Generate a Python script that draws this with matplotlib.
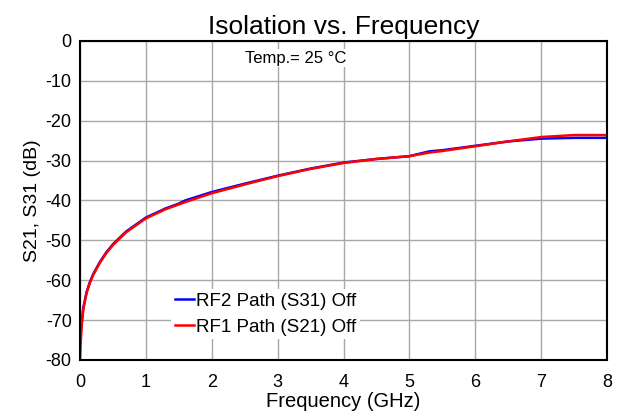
import matplotlib
matplotlib.use("Agg")
import matplotlib.pyplot as plt

plt.rcParams["font.family"] = ["Liberation Sans", "DejaVu Sans"]
plt.rcParams["axes.unicode_minus"] = False

# Frequency points (GHz)
freq = [0.0, 0.01, 0.03, 0.05, 0.1, 0.15, 0.2, 0.3, 0.4, 0.5, 0.7, 1.0, 1.3, 1.5,
        1.6, 2.0, 2.5, 3.0, 3.5, 4.0, 4.5, 5.0, 5.3, 5.5, 6.0, 6.5, 7.0, 7.5, 8.0]
# RF2 Path (S31) Off
s31 = [-73.0, -73.0, -70.0, -67.0, -63.0, -60.5, -58.5, -55.5, -53.0, -51.0, -47.8,
       -44.3, -42.0, -40.8, -40.0, -37.9, -35.8, -33.8, -32.0, -30.5, -29.6, -28.9,
       -27.7, -27.4, -26.3, -25.2, -24.5, -24.3, -24.3]
# RF1 Path (S21) Off
s21 = [-80.0, -76.0, -70.5, -67.3, -63.2, -60.7, -58.7, -55.7, -53.2, -51.2, -48.0,
       -44.5, -42.2, -41.0, -40.4, -38.2, -36.0, -33.9, -32.1, -30.6, -29.6, -28.9,
       -28.0, -27.6, -26.4, -25.2, -24.1, -23.6, -23.6]

xticks = list(range(0, 9))
yticks = list(range(-80, 1, 10))

fig = plt.figure(figsize=(6.21, 4.18), dpi=100)
ax = fig.add_axes([0.1288, 0.139, 0.8487, 0.763])

ax.plot(freq, s31, color="#0000ff", lw=1.8, label="RF2 Path (S31) Off")
ax.plot(freq, s21, color="#ff0000", lw=1.8, label="RF1 Path (S21) Off")

ax.set_xlim(0, 8)
ax.set_ylim(-80, 0)
ax.set_xticks(xticks)
ax.set_yticks(yticks)
ax.tick_params(labelsize=13, length=0, pad=6)
ax.tick_params(axis="x", pad=10)
ax.grid(True, color="#a8a8a8", lw=1.0)
for s in ax.spines.values():
    s.set_linewidth(1.5)
    s.set_color("black")

ax.set_title("Isolation vs. Frequency", fontsize=19, pad=5)
ax.set_xlabel("Frequency (GHz)", fontsize=14.5, labelpad=1)
ax.set_ylabel("S21, S31 (dB)", fontsize=14, labelpad=3)
ax.text(0.41, 0.97, "Temp.= 25 °C", transform=ax.transAxes, fontsize=12,
        ha="center", va="top", bbox=dict(facecolor="white", edgecolor="none", pad=1))

leg = ax.legend(loc="lower left", bbox_to_anchor=(0.155, 0.035), fontsize=13.5,
                frameon=True, fancybox=False, handlelength=1.0, handletextpad=0.15,
                borderpad=0.2, labelspacing=0.45)
leg.get_frame().set_edgecolor("none")
leg.get_frame().set_alpha(1.0)

fig.savefig("out.png", dpi=100)
